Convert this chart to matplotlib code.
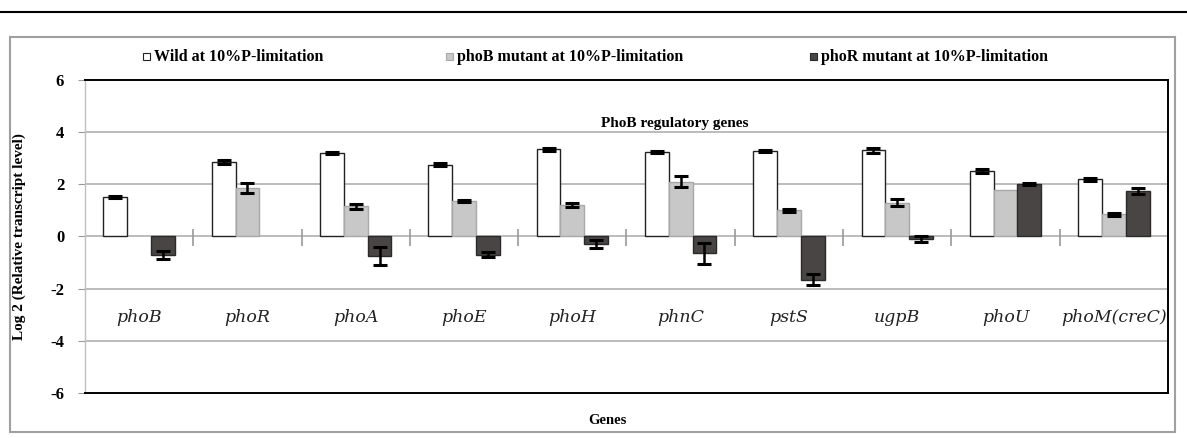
import matplotlib
matplotlib.use('Agg')
import matplotlib.pyplot as plt
from matplotlib.patches import Rectangle
import numpy as np

genes = ['phoB', 'phoR', 'phoA', 'phoE', 'phoH', 'phnC', 'pstS', 'ugpB', 'phoU', 'phoM(creC)']
series_names = ['Wild at 10%P-limitation', 'phoB mutant at 10%P-limitation', 'phoR mutant at 10%P-limitation']

wild = [1.5, 2.85, 3.2, 2.75, 3.35, 3.25, 3.28, 3.3, 2.5, 2.2]
wild_err = [0.04, 0.08, 0.04, 0.06, 0.06, 0.04, 0.05, 0.09, 0.08, 0.06]
phob_mut = [0.0, 1.85, 1.15, 1.35, 1.2, 2.1, 1.0, 1.3, 1.8, 0.85]
phob_err = [0.0, 0.2, 0.1, 0.03, 0.07, 0.2, 0.07, 0.15, 0.0, 0.05]
phor_mut = [-0.7, 0.0, -0.75, -0.7, -0.3, -0.65, -1.65, -0.1, 2.0, 1.75]
phor_err = [0.15, 0.0, 0.35, 0.1, 0.15, 0.4, 0.2, 0.12, 0.04, 0.12]

face = ['white', '#c8c8c8', '#4a4545']
edge = ['#222222', '#a8a8a8', '#2a2a2a']

plt.rcParams['font.family'] = ['Liberation Serif', 'DejaVu Serif']

fig = plt.figure(figsize=(11.87, 4.38), dpi=100)
ax = fig.add_axes([0.0716, 0.1027, 0.9124, 0.7147])

x = np.arange(len(genes))
w = 0.22
data = [(wild, wild_err), (phob_mut, phob_err), (phor_mut, phor_err)]
for i, (vals, errs) in enumerate(data):
    vals = np.array(vals)
    errs = np.array(errs)
    pos = x + (i - 1) * w
    keep = vals != 0
    ax.bar(pos[keep], vals[keep], w, color=face[i], edgecolor=edge[i], linewidth=1.0, zorder=3)
    mask = errs > 0
    ax.errorbar(pos[mask], vals[mask], yerr=errs[mask], fmt='none',
                ecolor='black', elinewidth=1.8, capsize=5, capthick=2.2, zorder=4)

ax.set_xlim(-0.5, len(genes) - 0.5)
ax.set_ylim(-6, 6)
ax.set_yticks([-6, -4, -2, 0, 2, 4, 6])
ax.set_yticklabels(['-6', '-4', '-2', '0', '2', '4', '6'], fontweight='bold', fontsize=12)
ax.set_xticks([])
ax.tick_params(axis='y', length=5, color='#999999', pad=10)
for yv in [-4, -2, 0, 2, 4]:
    ax.axhline(yv, color='#b0b0b0', linewidth=1.2, zorder=1)
ax.vlines(np.arange(len(genes) - 1) + 0.5, -0.35, 0.3, color='#999999', linewidth=1.2, zorder=2)

ax.spines['left'].set_color('#c0c0c0')
ax.spines['left'].set_linewidth(1.0)
for s in ['top', 'right', 'bottom']:
    ax.spines[s].set_color('black')
    ax.spines[s].set_linewidth(1.4)

for i, g in enumerate(genes):
    ax.text(i, -3.1, g, ha='center', va='center', style='italic', fontsize=12.5,
            family=['DejaVu Serif'], color='#222222')

ax.text(4.95, 4.35, 'PhoB regulatory genes', ha='center', va='center', fontweight='bold', fontsize=11)

fig.text(0.016, 0.46, 'Log 2 (Relative transcript level)', rotation=90, ha='center', va='center',
         fontweight='bold', fontsize=11)
fig.text(0.512, 0.039, 'Genes', ha='center', va='center', fontweight='bold', fontsize=10.5)

# legend, placed by hand
leg_x = [0.1205, 0.3757, 0.6824]
for i, name in enumerate(series_names):
    fig.patches.append(Rectangle((leg_x[i], 0.862), 0.0062, 0.017, transform=fig.transFigure,
                                 facecolor=face[i], edgecolor=edge[i], linewidth=0.8))
    fig.text(leg_x[i] + 0.009, 0.870, name, ha='left', va='center', fontweight='bold', fontsize=11.5)

# outer frame and top rule
fig.patches.append(Rectangle((0.0084, 0.0137), 0.9815, 0.9018, transform=fig.transFigure,
                             fill=False, edgecolor='#a0a0a0', linewidth=1.5))
fig.lines.append(plt.Line2D([0, 1], [0.9726, 0.9726], transform=fig.transFigure, color='black', linewidth=1.5))

fig.savefig('out.png', dpi=100)
